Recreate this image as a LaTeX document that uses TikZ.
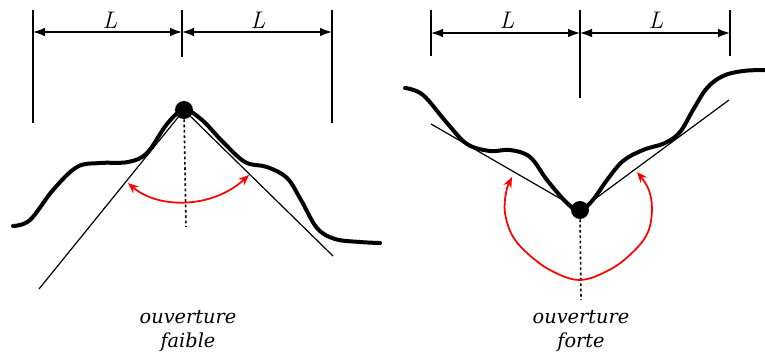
\documentclass[tikz,border=0pt]{standalone}
\usepackage{fontspec}
\newfontfamily\capfont{DejaVu Serif}
\usetikzlibrary{arrows.meta}
\begin{document}
\begin{tikzpicture}[x=0.75pt,y=-0.75pt,
  guide/.style={line width=1pt,black},
  dim/.style={line width=1pt,{Latex[length=9pt,width=6.5pt]}-{Latex[length=9pt,width=6.5pt]}},
  profile/.style={line width=3pt,line join=round,line cap=round},
  tangent/.style={line width=0.9pt},
  axis/.style={line width=1.2pt,dash pattern=on 2pt off 2pt},
  angle/.style={red,line width=1.3pt,{Stealth[length=8pt,width=6.5pt]}-{Stealth[length=8pt,width=6.5pt]}},
  pt/.style={circle,fill=black,inner sep=0pt,minimum size=13.5pt},
  lab/.style={font=\fontsize{18}{20}\selectfont\itshape},
  caption/.style={font=\capfont\itshape\fontsize{14.5}{18.5}\selectfont,align=center}]
\useasboundingbox (0,0) rectangle (765,360);
% ---------- left panel ----------
\coordinate (A1t) at (33,10); \coordinate (A1b) at (33,123);
\coordinate (A2t) at (182,10); \coordinate (A2b) at (182,57);
\coordinate (A3t) at (332,10); \coordinate (A3b) at (332,123);
\draw[guide] (A1t) -- (A1b);
\draw[guide] (A2t) -- (A2b);
\draw[guide] (A3t) -- (A3b);
\coordinate (A1m) at (33,32); \coordinate (A2m) at (182,32); \coordinate (A3m) at (332,32);
\draw[dim] (A1m) -- (A2m);
\draw[dim] (A2m) -- (A3m);
\node[lab] (LA1) at (110,20) {L};
\node[lab] (LA2) at (258,20) {L};
\coordinate (TA1) at (39,289); \coordinate (TA2) at (333,256);
\coordinate (DA) at (186,227);
\draw[profile] plot[smooth,tension=0.6] coordinates {(13,226) (30,220) (53,190) (77,167) (100,163) (128,162) (147,153) (167,124) (184,110) (202,120) (222,141) (245,162) (267,167) (287,178) (301,200) (317,228) (335,239) (360,242) (380,243)};
\node[pt] (peak) at (184,110) {};
\draw[tangent] (peak.center) -- (TA1);
\draw[tangent] (peak.center) -- (TA2);
\draw[axis] (peak) -- (DA);
\coordinate (RA1) at (128,183); \coordinate (RA2) at (249,175);
\draw[angle] (RA1) .. controls (158,209) and (212,209) .. (RA2);
\node[caption] (capA) at (188,331) {ouverture\\faible};
% ---------- right panel ----------
\coordinate (B1t) at (431,10); \coordinate (B1b) at (431,56);
\coordinate (B2t) at (580,10); \coordinate (B2b) at (580,98);
\coordinate (B3t) at (730,10); \coordinate (B3b) at (730,56);
\draw[guide] (B1t) -- (B1b);
\draw[guide] (B2t) -- (B2b);
\draw[guide] (B3t) -- (B3b);
\coordinate (B1m) at (431,33); \coordinate (B2m) at (580,33); \coordinate (B3m) at (730,33);
\draw[dim] (B1m) -- (B2m);
\draw[dim] (B2m) -- (B3m);
\node[lab] (LB1) at (507,20) {L};
\node[lab] (LB2) at (656,20) {L};
\coordinate (TB1) at (431,124); \coordinate (TB2) at (729,100);
\coordinate (DB) at (581,300);
\draw[profile] plot[smooth,tension=0.6] coordinates {(405,88) (423,95) (447,123) (467,144) (490,151) (510,150) (530,157) (547,180) (566,202) (579,211) (592,201) (607,180) (623,161) (643,150) (665,143) (680,132) (693,110) (707,88) (723,76) (743,71) (765,70)};
\node[pt] (valley) at (580,210) {};
\draw[tangent] (TB1) -- (valley.center);
\draw[tangent] (valley.center) -- (TB2);
\draw[axis] (valley) -- (DB);
\draw[angle] plot[smooth,tension=0.6] coordinates {(512,177) (506,193) (505,213) (512,235) (526,252) (550,270) (580,280) (611,269) (634,251) (648,232) (652,208) (648,188) (637,172)};
\node[caption] (capB) at (581,331) {ouverture\\forte};
\end{tikzpicture}
\end{document}
